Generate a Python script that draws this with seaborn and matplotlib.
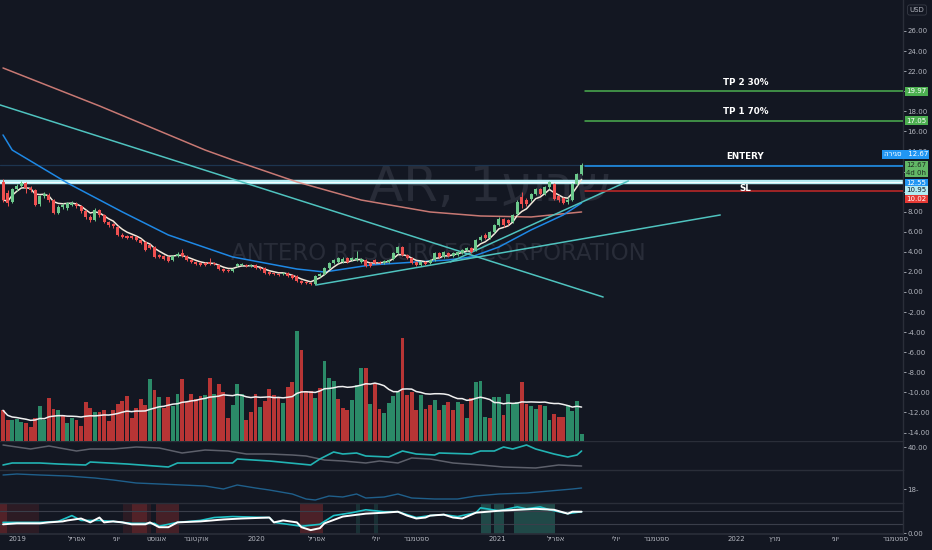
import numpy as np
import pandas as pd
import matplotlib
matplotlib.use('Agg')
import matplotlib.pyplot as plt
import matplotlib.dates as mdates
import seaborn as sns


####################     data     ####################

# weekly candles, first week 2018-12-10
first_week = '2018-12-10'
opens = [11.0, 9.9, 9.0, 10.3, 10.6, 10.9, 10.4, 10.2, 8.8, 9.6,
         9.7, 9.2, 7.9, 8.5, 8.4, 8.7, 8.8, 8.6, 8.1, 7.5,
         7.2, 8.2, 7.7, 7.0, 6.8, 6.5, 5.7, 5.6, 5.6, 5.5,
         5.2, 5.0, 4.7, 4.5, 3.7, 3.6, 3.5, 3.2, 3.6, 3.9,
         3.6, 3.2, 3.0, 2.9, 2.9, 3.0, 2.9, 2.7, 2.3, 2.2,
         2.1, 2.6, 2.7, 2.7, 2.6, 2.7, 2.4, 2.4, 2.0, 1.9,
         1.8, 1.8, 1.9, 1.7, 1.6, 1.1, 1.0, 0.9, 0.75, 1.6,
         1.8, 2.4, 2.9, 3.0, 3.0, 3.4, 3.2, 3.2, 3.0, 3.2,
         2.9, 3.2, 3.0, 2.9, 3.0, 3.3, 3.9, 4.5, 3.7, 3.4,
         3.0, 2.7, 3.0, 2.9, 3.2, 3.9, 3.5, 3.9, 3.6, 3.7,
         3.9, 4.2, 4.4, 4.2, 5.2, 5.7, 5.4, 6.0, 6.7, 7.3,
         7.2, 7.0, 7.8, 9.5, 9.2, 9.3, 9.8, 10.3, 9.8, 10.5,
         10.8, 9.6, 9.4, 9.0, 9.2, 10.8, 11.8]
closes = [9.2, 8.9, 10.3, 10.6, 10.9, 10.4, 10.2, 8.7, 9.6, 9.8,
          9.2, 7.9, 8.5, 8.7, 8.9, 8.9, 8.6, 8.1, 7.5, 7.2,
          8.2, 7.7, 7.0, 6.7, 6.6, 5.7, 5.5, 5.4, 5.4, 5.2,
          4.9, 4.2, 4.4, 3.5, 3.5, 3.3, 3.1, 3.6, 3.8, 3.6,
          3.2, 3.0, 2.8, 2.7, 2.7, 2.8, 2.8, 2.3, 2.1, 2.1,
          2.3, 2.8, 2.8, 2.6, 2.7, 2.4, 2.3, 1.9, 1.8, 1.8,
          1.7, 1.9, 1.6, 1.4, 1.1, 0.9, 0.85, 0.75, 1.6, 1.8,
          2.4, 2.9, 3.2, 3.4, 3.3, 3.0, 3.4, 3.4, 3.3, 2.6,
          2.6, 2.9, 2.9, 3.1, 3.2, 3.9, 4.5, 3.7, 3.4, 2.9,
          2.7, 3.0, 2.8, 3.2, 3.9, 3.5, 4.0, 3.6, 3.9, 4.0,
          4.2, 4.4, 4.0, 5.2, 5.5, 5.4, 6.0, 6.7, 7.3, 6.7,
          6.9, 7.7, 9.0, 8.8, 8.8, 9.8, 10.3, 9.8, 10.5, 11.0,
          9.3, 9.2, 8.9, 9.2, 10.8, 11.8, 12.67]
highs = [11.3, 10.2, 10.4, 10.8, 11.1, 11.0, 10.6, 10.3, 9.7, 10.0,
         9.9, 9.3, 8.7, 8.9, 9.0, 9.1, 9.0, 8.7, 8.2, 7.7,
         8.4, 8.3, 7.8, 7.1, 6.9, 6.6, 5.9, 5.7, 5.7, 5.6,
         5.3, 5.1, 4.8, 4.6, 3.8, 3.7, 3.6, 3.7, 4.0, 4.3,
         3.7, 3.3, 3.1, 3.0, 3.0, 3.4, 3.0, 2.8, 2.4, 2.3,
         2.4, 2.9, 2.9, 2.8, 2.8, 2.8, 2.5, 2.5, 2.1, 2.0,
         1.9, 2.0, 2.0, 1.8, 1.7, 1.2, 1.1, 1.0, 1.7, 1.9,
         2.5, 3.0, 3.3, 3.5, 3.5, 3.5, 3.5, 4.1, 3.4, 3.3,
         3.0, 3.3, 3.1, 3.2, 3.3, 4.0, 4.6, 4.6, 3.8, 3.5,
         3.1, 3.1, 3.1, 3.3, 4.0, 4.0, 4.1, 4.0, 4.0, 4.1,
         4.3, 4.5, 4.5, 5.3, 5.7, 5.9, 6.1, 6.8, 7.5, 7.4,
         7.3, 7.8, 9.2, 10.0, 9.4, 9.9, 10.4, 10.4, 10.6, 11.1,
         10.9, 9.7, 9.5, 9.5, 10.9, 11.9, 12.8]
lows = [9.0, 8.6, 8.9, 10.1, 10.5, 9.9, 10.0, 8.6, 8.6, 9.4,
        9.0, 7.8, 7.8, 8.3, 8.2, 8.6, 8.4, 7.9, 7.3, 7.0,
        7.1, 7.5, 6.9, 6.5, 6.4, 5.6, 5.4, 5.3, 5.3, 5.1,
        4.8, 4.1, 4.3, 3.4, 3.4, 3.2, 3.0, 3.1, 3.5, 3.5,
        3.1, 2.9, 2.7, 2.6, 2.6, 2.7, 2.7, 2.2, 2.0, 2.0,
        2.0, 2.5, 2.6, 2.5, 2.5, 2.3, 2.2, 1.8, 1.7, 1.7,
        1.6, 1.7, 1.5, 1.3, 1.0, 0.8, 0.75, 0.65, 0.7, 1.5,
        1.7, 2.3, 2.8, 2.9, 2.9, 2.9, 3.1, 3.1, 2.9, 2.5,
        2.5, 2.8, 2.8, 2.8, 2.9, 3.2, 3.8, 3.6, 3.3, 2.8,
        2.6, 2.6, 2.7, 2.8, 3.1, 3.4, 3.4, 3.5, 3.5, 3.6,
        3.8, 4.1, 3.9, 4.1, 5.1, 5.3, 5.3, 5.9, 6.6, 6.5,
        6.7, 6.9, 7.7, 8.4, 8.6, 9.1, 9.7, 9.7, 9.7, 10.3,
        9.2, 9.0, 8.8, 8.8, 9.1, 10.7, 11.7]

# volume in millions, colour as shown (G / R)
volumes = [55, 37, 37, 39, 34, 32, 25, 42, 62, 37,
           77, 58, 55, 46, 32, 42, 37, 26, 70, 60,
           52, 52, 56, 36, 56, 66, 71, 80, 42, 59,
           76, 64, 111, 91, 78, 60, 78, 63, 84, 111,
           70, 84, 75, 81, 82, 112, 85, 102, 88, 42,
           64, 102, 85, 37, 52, 84, 61, 71, 94, 82,
           78, 68, 97, 106, 197, 163, 90, 90, 77, 95,
           143, 113, 107, 76, 60, 56, 73, 100, 131, 131,
           67, 103, 58, 50, 68, 80, 88, 185, 82, 88,
           56, 82, 58, 64, 74, 56, 64, 70, 56, 70,
           67, 41, 77, 105, 107, 43, 41, 78, 78, 46,
           84, 68, 70, 106, 67, 62, 58, 64, 62, 37,
           48, 43, 43, 64, 53, 72, 13]
vol_dir = ("RRGGGRRRGG" "RRGRGGRRRR" "GRRRRRRRRR" "RRGRGRRGGR" "RRRRGRGRRR"
           "GGGRRRGRRR" "RGRRGRRRGR" "GGGRRRGGGR" "GRRGGGGRRR" "RGRRGRGRRG"
           "RGRGGGRGGR" "GGGRRGGRGG" "RRRGGGG")

# moving averages read at some weeks (week index, price)
ma_blue_idx = [0, 2, 14, 26, 36, 50, 64, 70, 80, 90, 97, 102, 108, 115, 122, 126]
ma_blue_val = [15.64, 14.14, 10.86, 7.97, 5.68, 3.49, 2.29, 1.99, 2.69, 2.99,
               3.19, 3.49, 4.48, 6.18, 7.67, 8.86]
ma_red_idx = [0, 21, 44, 50, 64, 78, 93, 104, 115, 126]
ma_red_val = [22.31, 18.53, 14.14, 13.15, 10.96, 9.16, 7.97, 7.57, 7.47, 7.97]

# drawn trend lines (week index, price)
trend_desc = ([-0.65, 130.7], [18.63, -0.50])
trend_up_low = ([68.2, 156.2], [0.70, 7.67])
trend_up_steep = ([97.4, 136.2], [2.99, 11.06])

# horizontal levels
resistance = 10.95
last_price = 12.67
entry = 12.55
stop = 10.02
tp1 = 17.05
tp2 = 19.97
levels_from = 126.8

# indicator panes (week index, value)
gray_idx = [0, 6, 10, 16, 19, 24, 29, 34, 39, 44, 49, 53, 58, 63, 66, 70, 74, 79,
            82, 86, 89, 93, 98, 104, 109, 116, 121, 126]
gray_val = [44, 36, 42, 32, 36, 36, 40, 38, 28, 34, 32, 26, 26, 24, 22, 14, 12, 8,
            12, 8, 18, 16, 8, 4, 0, -2, 4, 2]
teal_idx = [0, 2, 8, 12, 18, 19, 27, 36, 38, 44, 50, 51, 58, 67, 69, 72, 74, 77,
            79, 84, 87, 90, 94, 95, 102, 104, 107, 109, 111, 114, 116, 120, 123, 125, 126]
teal_val = [4, 8, 8, 6, 4, 10, 6, 0, 8, 8, 8, 16, 12, 4, 16, 30, 26, 28,
            22, 20, 32, 26, 24, 28, 26, 32, 32, 40, 36, 44, 36, 26, 20, 24, 32]
p3_idx = [0, 3, 8, 14, 20, 24, 29, 34, 39, 44, 48, 51, 55, 58, 63, 66, 68, 71,
          74, 77, 79, 83, 86, 89, 94, 99, 103, 108, 114, 119, 124, 126]
p3_val = [32, 33, 32, 31, 29, 27, 24, 23, 22, 21, 18, 22, 19, 17, 13, 8, 7, 11,
          10, 13, 9, 10, 13, 9, 8, 8, 11, 13, 14, 16, 18, 19]
osc_w_idx = [0, 3, 8, 10, 13, 14, 17, 19, 21, 22, 24, 26, 28, 31, 32, 34, 36, 38,
             43, 48, 52, 58, 59, 61, 64, 65, 67, 69, 70, 74, 79, 83, 86, 88, 90,
             92, 93, 96, 98, 100, 103, 108, 112, 116, 120, 123, 124, 126]
osc_w_val = [10, 11, 11, 12, 13, 14, 16, 12, 17, 12, 13, 12, 10, 10, 12, 7, 7, 12,
             13, 15, 16, 17, 12, 14, 12, 7, 4, 6, 11, 18, 21, 22, 23, 19, 16,
             17, 19, 20, 17, 16, 22, 24, 25, 26, 25, 21, 23, 23]
osc_c_idx = [0, 8, 12, 15, 17, 21, 24, 28, 31, 33, 34, 38, 43, 46, 50, 58, 59, 65,
             69, 72, 76, 79, 83, 86, 90, 93, 96, 99, 103, 104, 108, 112, 114, 117,
             119, 123, 126]
osc_c_val = [12, 12, 13, 19, 14, 14, 13, 11, 11, 11, 8, 12, 14, 17, 18, 17, 12, 8,
             10, 19, 22, 25, 23, 23, 17, 19, 20, 18, 22, 27, 24, 28, 26, 28,
             25, 21, 23]
red_zones = [(-0.7, 7.8, 0.45), (-0.7, 0.8, 0.9), (26.1, 32.2, 0.45), (28.1, 31.4, 0.9),
             (33.3, 38.3, 0.9), (64.7, 69.7, 1.0)]
green_zones = [(76.9, 77.8, 0.5), (80.8, 81.7, 0.5), (104.1, 106.3, 1.0),
               (107.0, 109.2, 1.0), (111.3, 120.3, 1.0)]

tick_dates = ['2019-01-01', '2019-04-01', '2019-06-01', '2019-08-01', '2019-10-01',
              '2020-01-01', '2020-04-01', '2020-07-01', '2020-09-01', '2021-01-01',
              '2021-04-01', '2021-07-01', '2021-09-01', '2022-01-01', '2022-03-01',
              '2022-06-01', '2022-09-01']
tick_names = ['2019', 'אפריל', 'יוני', 'אוגוסט', 'אוקטובר', '2020', 'אפריל', 'יולי',
              'ספטמבר', '2021', 'אפריל', 'יולי', 'ספטמבר', '2022', 'מרץ', 'יוני', 'ספטמבר']


####################     style     ####################

BG = '#131722'
SEP = '#2a2e39'
TXT = '#b2b5be'
UP, DOWN = '#6cc98c', '#ef5050'
VUP, VDOWN = '#2b8a68', '#b83535'
CYAN = '#4fc3bf'

sns.set_theme(style='dark', rc={'axes.facecolor': BG, 'figure.facecolor': BG,
                                'axes.edgecolor': SEP, 'xtick.color': TXT,
                                'ytick.color': TXT})
plt.rcParams['font.family'] = ['DejaVu Sans']


def heb(s):
    # matplotlib has no bidi: flip Hebrew words for display
    return s[::-1] if any('\u0590' <= ch <= '\u05ff' for ch in s) else s


t0 = mdates.date2num(pd.Timestamp(first_week))


def wx(i):
    return t0 + 7 * np.asarray(i, dtype=float)


W, H = 932, 550
fig = plt.figure(figsize=(W / 100, H / 100), dpi=100)


def pane(top, bottom, **kw):
    return fig.add_axes([0, 1 - bottom / H, 903 / W, (bottom - top) / H], **kw)


ax = pane(0, 441)
ax2 = pane(441, 470, sharex=ax)
ax3 = pane(470, 503, sharex=ax)
ax4 = pane(503, 534, sharex=ax)

####################     volume (under the candles)     ####################
axv = ax.twinx()

for a in (ax, ax2, ax3, ax4):
    a.set_facecolor(BG)
    for s in ('left', 'bottom'):
        a.spines[s].set_visible(False)
    a.spines['top'].set_color(SEP)
    a.spines['right'].set_color(SEP)
    a.spines['top'].set_linewidth(1)
    a.spines['right'].set_linewidth(1)
    a.yaxis.tick_right()
    a.tick_params(axis='y', left=False, labelleft=False, right=True, labelright=True,
                  labelsize=5, length=2, width=0.6, pad=1.2, colors=TXT)
    a.tick_params(axis='x', bottom=False, labelbottom=False, length=0)
    a.grid(False)
ax.spines['top'].set_visible(False)
ax4.spines['bottom'].set_visible(True)
ax4.spines['bottom'].set_color(SEP)

x = wx(np.arange(len(closes)))
ax.set_xlim(t0 - 4.6, t0 + 1372)
ax.set_ylim(-14.84, 29.08)

axv.set_ylim(0, 790)
vcols = [VUP if d == 'G' else VDOWN for d in vol_dir]
axv.bar(x, volumes, width=5.9, color=vcols, linewidth=0, zorder=1)
vol_ma = pd.Series(volumes).rolling(20, min_periods=1).mean()
sns.lineplot(x=x, y=vol_ma.values, ax=axv, color='#f0f0f0', lw=1.1)
axv.set_yticks([])
axv.set_ylabel('')
axv.tick_params(left=False, right=False, labelleft=False, labelright=False)
for s in axv.spines.values():
    s.set_visible(False)
ax.set_zorder(axv.get_zorder() + 1)
ax.patch.set_visible(False)
axv.patch.set_facecolor(BG)
axv.patch.set_visible(True)

####################     watermark     ####################
ax.text(490 / 903, 1 - 187 / 441, 'AR, 1' + heb('שבוע'), transform=ax.transAxes,
        fontsize=36, color='#282c38', ha='center', va='center', zorder=0)
ax.text(438 / 903, 1 - 253 / 441, 'ANTERO RESOURCES CORPORATION', transform=ax.transAxes,
        fontsize=16.5, color='#282c38', ha='center', va='center', zorder=0)

####################     price     ####################
ax.axhline(last_price, color='#1d3550', lw=0.9, zorder=1)
ax.axhline(resistance, color='#b2ebf2', lw=3.2, zorder=2)
ax.axhline(resistance, color='#f2fdff', lw=0.8, zorder=2)

sns.lineplot(x=wx(ma_red_idx), y=ma_red_val, ax=ax, color='#e88a82', lw=1.1, alpha=0.85)
sns.lineplot(x=wx(ma_blue_idx), y=ma_blue_val, ax=ax, color='#1e88e5', lw=1.1)
ema = pd.Series(closes).ewm(span=5).mean()
sns.lineplot(x=x, y=ema.values, ax=ax, color='#f3e9da', lw=1.1, zorder=5)

for tl in (trend_desc, trend_up_low, trend_up_steep):
    sns.lineplot(x=wx(tl[0]), y=tl[1], ax=ax, color=CYAN, lw=1.1)

o = np.array(opens)
c = np.array(closes)
ccols = np.where(c >= o, UP, DOWN)
ax.vlines(x, lows, highs, colors=ccols, lw=0.7, zorder=6)
ax.bar(x, np.maximum(np.abs(c - o), 0.07), bottom=np.minimum(o, c), width=4.6,
       color=ccols, linewidth=0, zorder=7)

xr = ax.get_xlim()[1]
for lvl, col in ((tp2, '#4caf50'), (tp1, '#4caf50'), (entry, '#2196f3'), (stop, '#c62828')):
    ax.plot([wx(levels_from), xr], [lvl, lvl], color=col, lw=1.1, zorder=4)

lab_x = wx(161.7)
for txt, y in (('TP 2 30%', tp2), ('TP 1 70%', tp1), ('ENTERY', entry)):
    ax.annotate(txt, (lab_x, y), xytext=(0, 3.5), textcoords='offset points', ha='center',
                va='bottom', color='white', fontsize=6.3, fontweight='bold', zorder=9)
ax.annotate('SL', (lab_x, resistance), xytext=(0, -1.5), textcoords='offset points',
            ha='center', va='top', color='white', fontsize=6.3, fontweight='bold', zorder=9)

ticks = np.arange(-14, 27, 2)
ax.set_yticks(ticks)
ax.set_yticklabels([f'{t:.2f}' for t in ticks])
ax.set_ylabel('')


def tag(text, y, fc, tc, dy=0, dx=2.5):
    ax.annotate(text, (1, y), xycoords=('axes fraction', 'data'), xytext=(dx, dy),
                textcoords='offset points', ha='left', va='center', color=tc,
                fontsize=5, annotation_clip=False, zorder=20, linespacing=1.25,
                bbox=dict(boxstyle='square,pad=0.2', fc=fc, ec='none'))


tag(f'{tp2:.2f}', tp2, '#4caf50', 'white')
tag(f'{tp1:.2f}', tp1, '#4caf50', 'white')
tag(heb('סגירה') + '   ' + f'{last_price:.2f}', last_price, '#2196f3', 'white', dy=7.5, dx=-14)
tag(f'{last_price:.2f}\n4d 0h', last_price, '#62b866', '#1f2b22', dy=-3)
tag(f'{entry:.2f}', entry, '#2196f3', 'white', dy=-12.5)
tag(f'{resistance:.2f}', resistance, '#b2ebf2', BG, dy=-6)
tag(f'{stop:.2f}', stop, '#e53935', 'white', dy=-5.5)

fig.text(917 / W, 1 - 10 / H, 'USD', fontsize=5, color=TXT, ha='center', va='center',
         bbox=dict(boxstyle='round,pad=0.3', fc=BG, ec='#363a45', lw=0.6))

####################     pane 2     ####################
sns.lineplot(x=wx(gray_idx), y=gray_val, ax=ax2, color='#5d606b', lw=1.1)
sns.lineplot(x=wx(teal_idx), y=teal_val, ax=ax2, color='#22b3b3', lw=1.2)
ax2.set_ylim(-6, 52)
ax2.set_yticks([40])
ax2.set_yticklabels(['40.00'])

####################     pane 3     ####################
sns.lineplot(x=wx(p3_idx), y=p3_val, ax=ax3, color='#1f5f8b', lw=1.0)
ax3.set_ylim(4, 37)
ax3.set_yticks([18])
ax3.set_yticklabels(['18-'])

####################     pane 4     ####################
for a0, a1, k in red_zones:
    ax4.axvspan(wx(a0), wx(a1), color='#7a2a2e', alpha=0.55 * k, lw=0, zorder=0)
for a0, a1, k in green_zones:
    ax4.axvspan(wx(a0), wx(a1), color='#2a6b62', alpha=0.6 * k, lw=0, zorder=0)
ax4.axhline(24, color='#3a3e4a', lw=0.8, zorder=1)
ax4.axhline(10, color='#3a3e4a', lw=0.8, zorder=1)
sns.lineplot(x=wx(osc_c_idx), y=osc_c_val, ax=ax4, color='#1fc3c8', lw=1.2)
sns.lineplot(x=wx(osc_w_idx), y=osc_w_val, ax=ax4, color='white', lw=1.4)
ax4.set_ylim(0, 32)
ax4.set_yticks([1])
ax4.set_yticklabels(['0.00'])

for a in (ax2, ax3, ax4):
    a.set_ylabel('')

ax4.set_xticks([mdates.date2num(pd.Timestamp(d)) for d in tick_dates])
ax4.set_xticklabels([heb(n) for n in tick_names])
ax4.tick_params(axis='x', labelbottom=True, bottom=False, length=0, labelsize=5,
                pad=1.5, colors=TXT)
ax.set_xlim(t0 - 4.6, t0 + 1372)

fig.savefig('out.png', dpi=100, facecolor=BG)
